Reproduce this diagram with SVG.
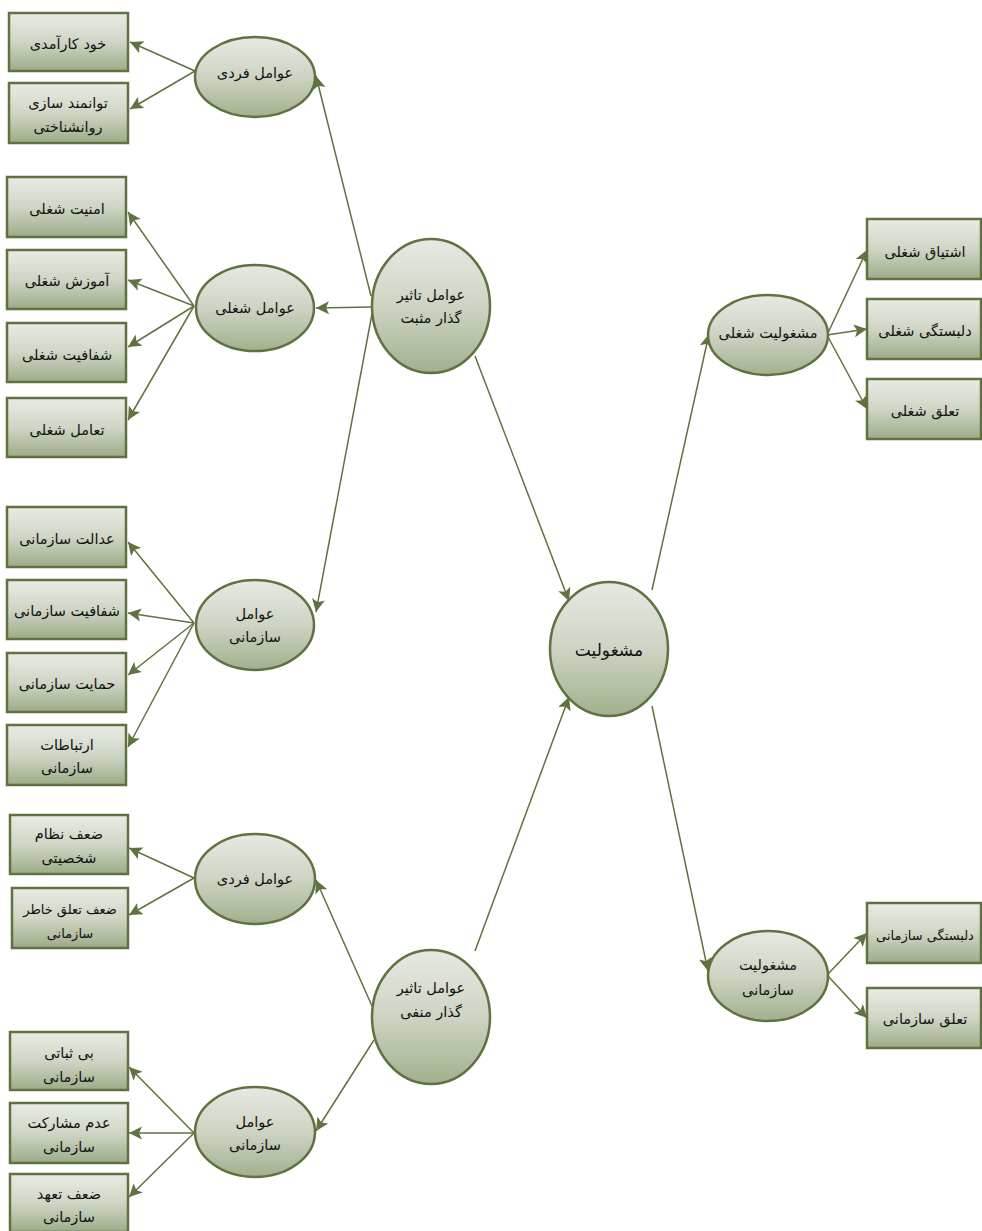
<svg xmlns="http://www.w3.org/2000/svg" width="982" height="1231" viewBox="0 0 982 1231">
<defs>
<linearGradient id="gb" x1="0" y1="0" x2="0" y2="1"><stop offset="0" stop-color="#e9ebe5"/><stop offset="0.5" stop-color="#cfd6c5"/><stop offset="1" stop-color="#9dab88"/></linearGradient>
<linearGradient id="ge" x1="0" y1="0" x2="0" y2="1"><stop offset="0" stop-color="#e7e9e3"/><stop offset="0.5" stop-color="#cdd4c3"/><stop offset="1" stop-color="#a2b08d"/></linearGradient>
<marker id="ah" markerUnits="userSpaceOnUse" markerWidth="16" markerHeight="14" refX="13" refY="6.5" orient="auto"><path d="M0,0 L13,6.5 L0,13 L3,6.5 Z" fill="#5f7240"/></marker>
<style>
.b{fill:url(#gb);stroke:#5f7240;stroke-width:2.5}
.e{fill:url(#ge);stroke:#5f7240;stroke-width:2.5}
.c{stroke:#5f7240;stroke-width:1.5;fill:none;marker-end:url(#ah)}
text{font-family:"DejaVu Sans","Liberation Serif",serif;font-size:14.5px;fill:#111;text-anchor:middle;dominant-baseline:central}
.big{font-size:17px}
.sm{font-size:13px}
</style>
</defs>
<g id="connectors">
<line class="c" x1="195" y1="71" x2="130" y2="42"/>
<line class="c" x1="195" y1="71" x2="130" y2="109"/>
<line class="c" x1="194" y1="306" x2="128" y2="212"/>
<line class="c" x1="194" y1="306" x2="128" y2="280"/>
<line class="c" x1="194" y1="306" x2="128" y2="347"/>
<line class="c" x1="194" y1="306" x2="128" y2="420"/>
<line class="c" x1="194" y1="623" x2="128" y2="542"/>
<line class="c" x1="194" y1="623" x2="128" y2="613"/>
<line class="c" x1="194" y1="623" x2="128" y2="675"/>
<line class="c" x1="194" y1="623" x2="128" y2="747"/>
<line class="c" x1="194" y1="878" x2="129" y2="848"/>
<line class="c" x1="194" y1="878" x2="129" y2="915"/>
<line class="c" x1="194" y1="1133" x2="129" y2="1067"/>
<line class="c" x1="194" y1="1133" x2="129" y2="1133"/>
<line class="c" x1="194" y1="1133" x2="129" y2="1197"/>
<line class="c" x1="371" y1="296" x2="316" y2="76"/>
<line class="c" x1="372" y1="307" x2="316" y2="308"/>
<line class="c" x1="372" y1="314" x2="316" y2="612"/>
<line class="c" x1="475" y1="356" x2="569" y2="601"/>
<line class="c" x1="372" y1="1006" x2="316" y2="880"/>
<line class="c" x1="374" y1="1040" x2="316" y2="1131"/>
<line class="c" x1="475" y1="951" x2="569" y2="697"/>
<line class="c" x1="652" y1="590" x2="709" y2="334"/>
<line class="c" x1="652" y1="706" x2="708" y2="971"/>
<line class="c" x1="827" y1="335" x2="867" y2="250"/>
<line class="c" x1="827" y1="335" x2="867" y2="329"/>
<line class="c" x1="827" y1="335" x2="867" y2="409"/>
<line class="c" x1="827" y1="975" x2="867" y2="933"/>
<line class="c" x1="827" y1="975" x2="867" y2="1018"/>
</g>
<g id="n-khod"><rect class="b" x="9" y="13" width="119" height="58"/><text x="68" y="44">خود کارآمدی</text></g>
<g id="n-tavanmand"><rect class="b" x="9" y="83" width="119" height="60"/><text x="68" y="103">توانمند سازی</text><text x="68" y="127">روانشناختی</text></g>
<g id="n-fardi1"><ellipse class="e" cx="255" cy="77" rx="60" ry="40"/><text x="255" y="73">عوامل فردی</text></g>
<g id="n-amniat"><rect class="b" x="7" y="177" width="119" height="60"/><text x="67" y="209">امنیت شغلی</text></g>
<g id="n-amouzesh"><rect class="b" x="7" y="250" width="119" height="59"/><text x="67" y="281">آموزش شغلی</text></g>
<g id="n-shafafiat1"><rect class="b" x="7" y="323" width="119" height="59"/><text x="67" y="355">شفافیت شغلی</text></g>
<g id="n-taamol"><rect class="b" x="7" y="398" width="119" height="59"/><text x="67" y="430">تعامل شغلی</text></g>
<g id="n-shoghli"><ellipse class="e" cx="255" cy="308" rx="59" ry="43"/><text x="255" y="308">عوامل شغلی</text></g>
<g id="n-edalat"><rect class="b" x="7" y="507" width="119" height="60"/><text x="67" y="539">عدالت سازمانی</text></g>
<g id="n-shafafiat2"><rect class="b" x="7" y="580" width="119" height="59"/><text x="67" y="611">شفافیت سازمانی</text></g>
<g id="n-hemayat"><rect class="b" x="7" y="653" width="119" height="59"/><text x="67" y="684">حمایت سازمانی</text></g>
<g id="n-ertebatat"><rect class="b" x="7" y="725" width="119" height="60"/><text x="67" y="745">ارتباطات</text><text x="67" y="768">سازمانی</text></g>
<g id="n-sazmani1"><ellipse class="e" cx="255" cy="625" rx="59" ry="45"/><text x="255" y="614">عوامل</text><text x="255" y="637">سازمانی</text></g>
<g id="n-mosbat"><ellipse class="e" cx="431" cy="306" rx="59" ry="67"/><text x="431" y="295">عوامل تاثیر</text><text x="431" y="318">گذار مثبت</text></g>
<g id="n-nezam"><rect class="b" x="10" y="815" width="118" height="59"/><text x="69" y="834">ضعف نظام</text><text x="69" y="858">شخصیتی</text></g>
<g id="n-khater"><rect class="b" x="12" y="888" width="116" height="60"/><text class="sm" x="70" y="909">ضعف تعلق خاطر</text><text class="sm" x="70" y="933">سازمانی</text></g>
<g id="n-fardi2"><ellipse class="e" cx="255" cy="879" rx="60" ry="45"/><text x="255" y="879">عوامل فردی</text></g>
<g id="n-bisobati"><rect class="b" x="10" y="1032" width="118" height="58"/><text x="69" y="1053">بی ثباتی</text><text x="69" y="1077">سازمانی</text></g>
<g id="n-moshrekat"><rect class="b" x="10" y="1103" width="118" height="60"/><text x="69" y="1123">عدم مشارکت</text><text x="69" y="1147">سازمانی</text></g>
<g id="n-tahod"><rect class="b" x="10" y="1174" width="118" height="58"/><text x="69" y="1194">ضعف تعهد</text><text x="69" y="1217">سازمانی</text></g>
<g id="n-sazmani2"><ellipse class="e" cx="255" cy="1132" rx="60" ry="45"/><text x="255" y="1122">عوامل</text><text x="255" y="1145">سازمانی</text></g>
<g id="n-manfi"><ellipse class="e" cx="431" cy="1017" rx="59" ry="67"/><text x="431" y="988">عوامل تاثیر</text><text x="431" y="1012">گذار منفی</text></g>
<g id="n-mashghouliat"><ellipse class="e" cx="609" cy="649" rx="59" ry="67"/><text class="big" x="609" y="650">مشغولیت</text></g>
<g id="n-shoghli-r"><ellipse class="e" cx="768" cy="335" rx="60" ry="40"/><text x="768" y="333">مشغولیت شغلی</text></g>
<g id="n-eshtiagh"><rect class="b" x="867" y="219" width="114" height="60"/><text x="925" y="252">اشتیاق شغلی</text></g>
<g id="n-delbastegi1"><rect class="b" x="867" y="299" width="114" height="60"/><text x="925" y="331">دلبستگی شغلی</text></g>
<g id="n-taalogh1"><rect class="b" x="867" y="379" width="114" height="60"/><text x="925" y="411">تعلق شغلی</text></g>
<g id="n-sazmani-r"><ellipse class="e" cx="768" cy="976" rx="60" ry="45"/><text x="768" y="965">مشغولیت</text><text x="768" y="990">سازمانی</text></g>
<g id="n-delbastegi2"><rect class="b" x="867" y="903" width="114" height="60"/><text class="sm" x="925" y="935">دلبستگی سازمانی</text></g>
<g id="n-taalogh2"><rect class="b" x="867" y="988" width="114" height="60"/><text x="925" y="1019">تعلق سازمانی</text></g>
</svg>
